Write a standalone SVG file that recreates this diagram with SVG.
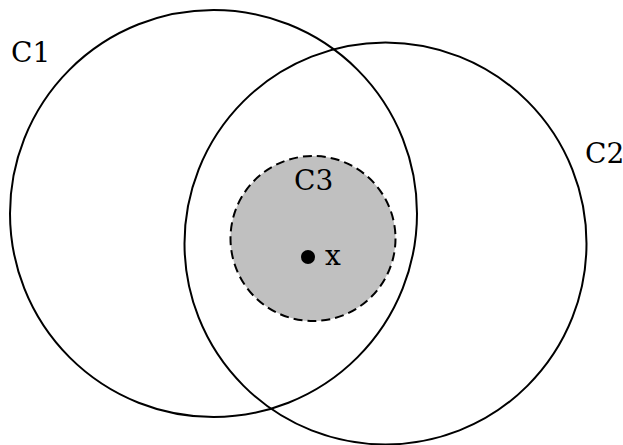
<svg xmlns="http://www.w3.org/2000/svg" width="623" height="445" viewBox="0 0 623 445">
<style>
.big{fill:none;stroke:#000;stroke-width:2}
.lbl{font-family:"DejaVu Serif",serif;font-size:28px;fill:#000}
</style>
<rect width="623" height="445" fill="#fff"/>
<g id="C1"><circle class="big" cx="213.5" cy="213.5" r="203.5"/><text class="lbl" x="11" y="62">C1</text></g>
<g id="C2"><circle class="big" cx="385.5" cy="243.5" r="201"/><text class="lbl" x="585" y="163">C2</text></g>
<g id="C3"><circle cx="313" cy="238.5" r="82.5" fill="#c0c0c0" stroke="#000" stroke-width="2" stroke-dasharray="9,5"/><text class="lbl" x="294" y="190">C3</text></g>
<g id="x"><circle cx="308" cy="257" r="7" fill="#000"/><text class="lbl" x="325" y="265">x</text></g>
<g id="connectors"/>
</svg>
